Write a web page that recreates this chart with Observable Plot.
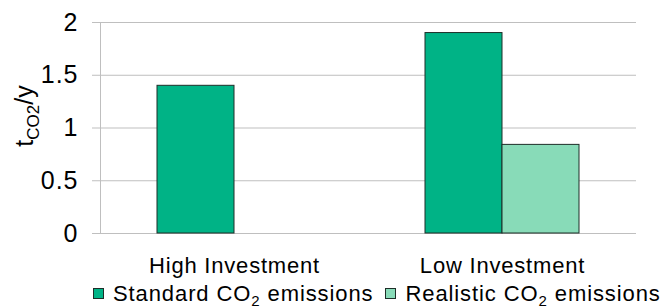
<!DOCTYPE html>
<html>
<head>
<meta charset="utf-8">
<script src="https://cdn.jsdelivr.net/npm/d3@7"></script>
<script src="https://cdn.jsdelivr.net/npm/@observablehq/plot@0.6"></script>
<style>
  html, body { margin: 0; padding: 0; background: #fff; }
  body { width: 660px; height: 307px; overflow: hidden; font-family: "Liberation Sans", Arial, sans-serif; }
  #chart svg { display: block; }
  #chart g[aria-label="fx-axis tick label"] text { letter-spacing: 0.8px; }
  #chart g[aria-label="y-axis tick label"] text { letter-spacing: 1px; }
  #legend { height: 32px; display: flex; align-items: center; padding-left: 93px; font-size: 22px; letter-spacing: 0.9px; color: #000; box-sizing: border-box; padding-top: 5px; }
  .item { display: flex; align-items: center; margin-right: 12px; white-space: nowrap; line-height: 24px; }
  .sw { width: 9px; height: 9px; border: 1px solid #1e2e28; margin-right: 9px; flex: none; }
  .item sub { font-size: 15px; vertical-align: -5px; line-height: 0; }
</style>
</head>
<body>
<div id="chart"></div>
<div id="legend"></div>
<script>
const categories = ["High Investment", "Low Investment"];
const seriesKeys = ["Standard", "Realistic"];
const seriesNames = ["Standard CO2 emissions", "Realistic CO2 emissions"];
const standard = [1.4, 1.9];
const realistic = [null, 0.84];
const yTicks = [0, 0.5, 1, 1.5, 2];
const colors = ["#00B386", "#88DBB8"];

const data = categories.flatMap((c, i) => [
  {cat: c, series: seriesKeys[0], value: standard[i]},
  {cat: c, series: seriesKeys[1], value: realistic[i]}
]).filter(d => d.value != null);

const chart = Plot.plot({
  width: 660,
  height: 275,
  marginTop: 22,
  marginBottom: 42,
  marginLeft: 100,
  marginRight: 24,
  style: {fontFamily: "'Liberation Sans', Arial, sans-serif", background: "white", color: "#000", overflow: "visible"},
  fx: {domain: categories, padding: 0, label: null},
  x: {domain: seriesKeys, paddingInner: 0, paddingOuter: 0.74, axis: null},
  y: {domain: [0, 2], label: null},
  color: {domain: seriesKeys, range: colors},
  marks: [
    Plot.gridY(yTicks, {stroke: "#bfbfbf", strokeOpacity: 1, strokeWidth: 1}),
    Plot.axisY(yTicks, {tickSize: 8, tickPadding: 14, fontSize: 25, stroke: "#bfbfbf", strokeOpacity: 1, label: null, tickFormat: d => String(d)}),
    Plot.frame({anchor: "left", facetAnchor: "left", stroke: "#bfbfbf", strokeOpacity: 1}),
    Plot.barY(data, {fx: "cat", x: "series", y: "value", fill: "series", stroke: "#1e2e28", strokeWidth: 1}),
    Plot.axisFx({anchor: "bottom", tickSize: 0, tickPadding: 24, fontSize: 22, label: null})
  ]
});
document.getElementById("chart").appendChild(chart);

// y-axis label with subscript
const svg = d3.select(chart);
const lab = svg.append("text")
  .attr("transform", "translate(33,116) rotate(-90)")
  .attr("text-anchor", "middle")
  .attr("font-size", 25)
  .attr("fill", "#000");
lab.append("tspan").text("t");
lab.append("tspan").attr("font-size", 17).attr("dy", 6).text("CO2");
lab.append("tspan").attr("dy", -6).text("/y");

// legend
const legend = d3.select("#legend");
seriesNames.forEach((name, i) => {
  const it = legend.append("div").attr("class", "item");
  it.append("div").attr("class", "sw").style("background", colors[i]);
  const parts = name.split("CO2");
  const sp = it.append("span");
  sp.append("span").text(parts[0] + "CO");
  sp.append("sub").text("2");
  sp.append("span").text(parts[1]);
});
</script>
</body>
</html>
